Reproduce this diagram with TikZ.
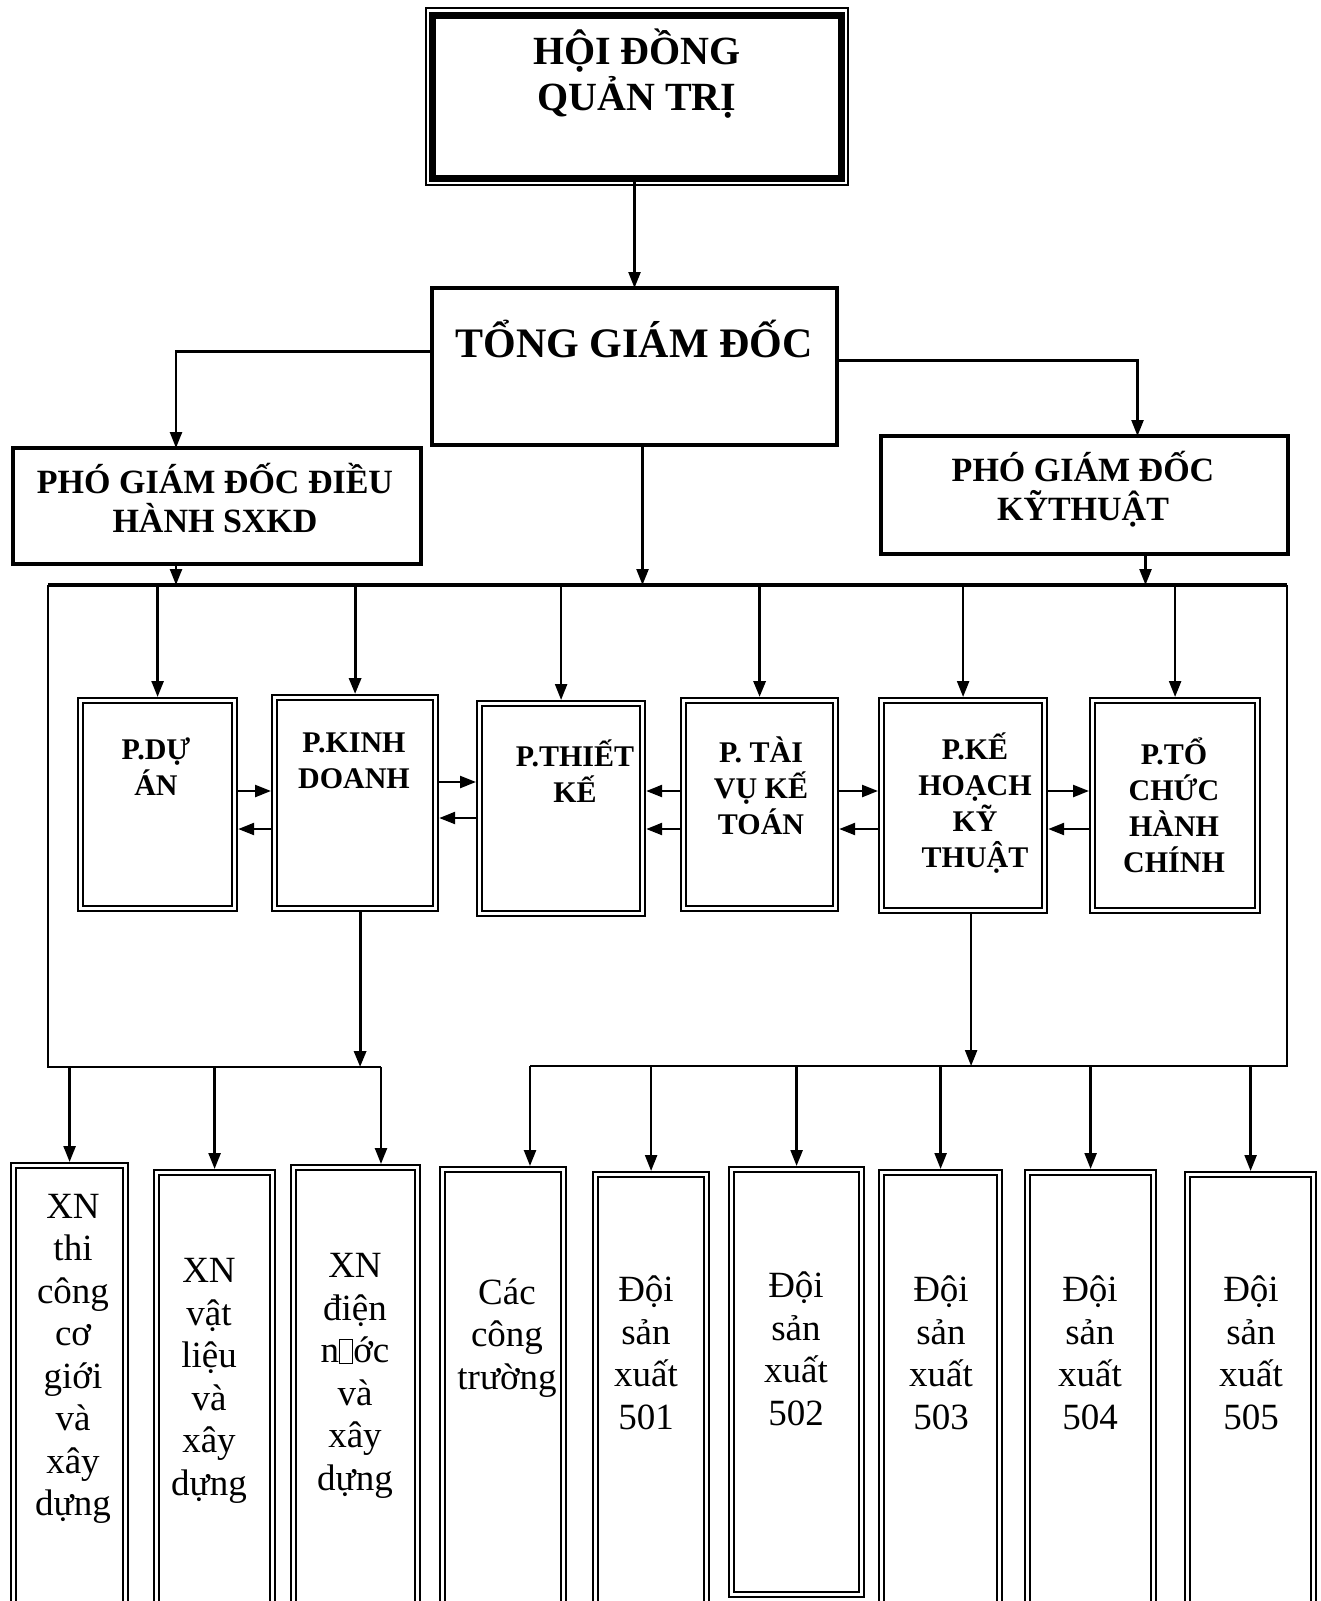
\documentclass[tikz,border=0pt]{standalone}
\usepackage{fontspec}
\setmainfont{Liberation Serif}
\usetikzlibrary{arrows.meta}
% the broken glyph printed in "n?ớc"
\newcommand{\missingglyph}{{\setlength{\fboxsep}{0pt}\setlength{\fboxrule}{1.2pt}\fbox{\rule{0pt}{0.62em}\hspace{0.32em}}}}

\begin{document}
\begin{tikzpicture}[x=1pt, y=-1pt,
    box/.style={draw, line width=4.5pt, inner sep=0pt, outer sep=0pt, anchor=north west},
    dbox/.style={draw, double, line width=2.4pt, double distance=2.4pt, inner sep=0pt, outer sep=3.6pt, anchor=north west},
    arr/.style={-{Triangle[length=16pt,width=12pt]}, line width=2.4pt},
    ln/.style={line width=2.4pt},
    ttl/.style={font=\bfseries\fontsize{40}{46}\selectfont, align=center, inner sep=0pt},
    pgd/.style={font=\bfseries\fontsize{34}{39}\selectfont, align=center, inner sep=0pt},
    dept/.style={font=\bfseries\fontsize{30}{36}\selectfont, align=center, inner sep=0pt},
    unit/.style={font=\fontsize{37}{42.5}\selectfont, align=center, inner sep=0pt}]
  \useasboundingbox (0,0) rectangle (1320,1601);
  \clip (0,0) rectangle (1320,1601);
  \fill[white] (0,0) rectangle (1320,1601);

  % management
  \node[box, line width=7pt, minimum width=409pt, minimum height=163pt] (hdqt) at (432.5,15) {};
  \draw[line width=1.5pt] ([shift={(-6.5pt,7pt)}]hdqt.north west) rectangle ([shift={(6.5pt,-7pt)}]hdqt.south east);
  \node[ttl] (tHdqt) at (637,74) {HỘI ĐỒNG\\QUẢN TRỊ};

  \node[box, minimum width=405pt, minimum height=157pt] (tgd) at (432,288) {};
  \node[font=\bfseries\fontsize{42}{48}\selectfont, anchor=base] (tTgd) at (634,357) {TỔNG GIÁM ĐỐC};

  \node[box, minimum width=408pt, minimum height=116pt] (pgddh) at (13,448) {};
  \node[pgd] (tDh) at (215,498) {PHÓ GIÁM ĐỐC ĐIỀU\\HÀNH SXKD};

  \node[box, minimum width=407pt, minimum height=118pt] (pgdkt) at (881,436) {};
  \node[pgd] (tKt) at (1083,489) {PHÓ GIÁM ĐỐC\\KỸTHUẬT};

  % departments
  \node[dbox, minimum width=154pt, minimum height=208pt] (dda) at (77,697) {};
  \node[dbox, minimum width=161pt, minimum height=211pt] (dkd) at (271,694) {};
  \node[dbox, minimum width=163pt, minimum height=210pt] (dtk) at (476,700) {};
  \node[dbox, minimum width=152pt, minimum height=208pt] (dtv) at (680,697) {};
  \node[dbox, minimum width=163pt, minimum height=210pt] (dkh) at (878,697) {};
  \node[dbox, minimum width=165pt, minimum height=210pt] (dtc) at (1089,697) {};
  \node[dept] (tDa) at (156,767) {P.DỰ\\ÁN};
  \node[dept] (tKd) at (354,761) {P.KINH\\DOANH};
  \node[dept] (tTk) at (575,771) {P.THIẾT\\KẾ};
  \node[dept] (tTv) at (761,786) {P. TÀI\\VỤ KẾ\\TOÁN};
  \node[dept] (tKh) at (975,803) {P.KẾ\\HOẠCH\\KỸ\\THUẬT};
  \node[dept] (tTc) at (1174,805) {P.TỔ\\CHỨC\\HÀNH\\CHÍNH};

  % units
  \node[dbox, minimum width=112pt, minimum height=460pt] (b1) at (10,1162) {};
  \node[dbox, minimum width=116pt, minimum height=460pt] (b2) at (153,1169) {};
  \node[dbox, minimum width=124pt, minimum height=460pt] (b3) at (290,1164) {};
  \node[dbox, minimum width=121pt, minimum height=460pt] (b4) at (439,1166) {};
  \node[dbox, minimum width=111pt, minimum height=460pt] (b5) at (592,1171) {};
  \node[dbox, minimum width=130pt, minimum height=425pt] (b6) at (728,1166) {};
  \node[dbox, minimum width=118pt, minimum height=460pt] (b7) at (878,1169) {};
  \node[dbox, minimum width=126pt, minimum height=460pt] (b8) at (1024,1169) {};
  \node[dbox, minimum width=126pt, minimum height=460pt] (b9) at (1184,1171) {};
  \node[unit] (t1) at (73,1359) {XN\\thi\\công\\cơ\\giới\\và\\xây\\dựng};
  \node[unit] (t2) at (209,1381) {XN\\vật\\liệu\\và\\xây\\dựng};
  \node[unit] (t3) at (355,1376) {XN\\điện\\n\missingglyph ớc\\và\\xây\\dựng};
  \node[unit] (t4) at (507,1338) {Các\\công\\trường};
  \node[unit] (t5) at (646,1353) {Đội\\sản\\xuất\\501};
  \node[unit] (t6) at (796,1349) {Đội\\sản\\xuất\\502};
  \node[unit] (t7) at (941,1353) {Đội\\sản\\xuất\\503};
  \node[unit] (t8) at (1090,1353) {Đội\\sản\\xuất\\504};
  \node[unit] (t9) at (1251,1353) {Đội\\sản\\xuất\\505};

  % top connectors
  \draw[arr] (tgd.north |- hdqt.south) -- (tgd.north);
  \draw[arr] ([yshift=15pt]tgd.west) -| ([xshift=-41pt]pgddh.north);
  \draw[arr] ([yshift=6pt]tgd.east) -| ([xshift=53pt]pgdkt.north);

  \coordinate (busL) at (48,585);
  \coordinate (busR) at (1287,585);
  \coordinate (tgdOut) at ([xshift=8pt]tgd.south);
  \coordinate (dhOut) at ([xshift=-41pt]pgddh.south);
  \coordinate (ktOut) at ([xshift=61pt]pgdkt.south);
  \draw[line width=3.2pt] (busL) -- (busR);
  \draw[arr] (tgdOut) -- (tgdOut |- busL);
  \draw[arr] (dhOut) -- (dhOut |- busL);
  \draw[arr] (ktOut) -- (ktOut |- busL);
  \foreach \d in {dda,dtk,dkh,dtc}
    \draw[arr] (busL -| \d.north) -- (\d.north);
  \foreach \d in {dkd,dtv}
    \draw[arr, line width=3.2pt] (busL -| \d.north) -- (\d.north);

  % between departments
  \coordinate (rowA) at (0,791);
  \coordinate (rowB) at (0,829);
  \coordinate (rowC) at (0,782);
  \coordinate (rowD) at (0,818);
  \draw[arr] (dda.east |- rowA) -- (dkd.west |- rowA);
  \draw[arr] (dkd.west |- rowB) -- (dda.east |- rowB);
  \draw[arr] (dkd.east |- rowC) -- (dtk.west |- rowC);
  \draw[arr] (dtk.west |- rowD) -- (dkd.east |- rowD);
  \draw[arr] (dtv.west |- rowA) -- (dtk.east |- rowA);
  \draw[arr] (dtv.west |- rowB) -- (dtk.east |- rowB);
  \draw[arr] (dtv.east |- rowA) -- (dkh.west |- rowA);
  \draw[arr] (dkh.west |- rowB) -- (dtv.east |- rowB);
  \draw[arr] (dkh.east |- rowA) -- (dtc.west |- rowA);
  \draw[arr] (dtc.west |- rowB) -- (dkh.east |- rowB);

  % lower connectors
  \coordinate (lowLa) at (48,1067);
  \coordinate (lowLb) at (381,1067);
  \coordinate (lowRa) at (530,1066);
  \coordinate (lowRb) at (1287,1066);
  \draw[ln] (busL) -- (lowLa) -- (lowLb);
  \draw[ln] (busR) -- (lowRb) -- (lowRa);
  \coordinate (kdOut) at ([xshift=5pt]dkd.south);
  \coordinate (khOut) at ([xshift=8pt]dkh.south);
  \draw[arr, line width=3.2pt] (kdOut) -- (kdOut |- lowLa);
  \draw[arr] (khOut) -- (khOut |- lowRa);
  \draw[arr] (lowLa -| b1.north) -- (b1.north);
  \draw[arr] (lowLa -| b2.north) -- (b2.north);
  \draw[arr] (lowLb) -- (lowLb |- b3.north);
  \draw[arr] (lowRa) -- (lowRa |- b4.north);
  \foreach \b in {b5,b6,b7,b8,b9}
    \draw[arr] (lowRa -| \b.north) -- (\b.north);
\end{tikzpicture}
\end{document}
